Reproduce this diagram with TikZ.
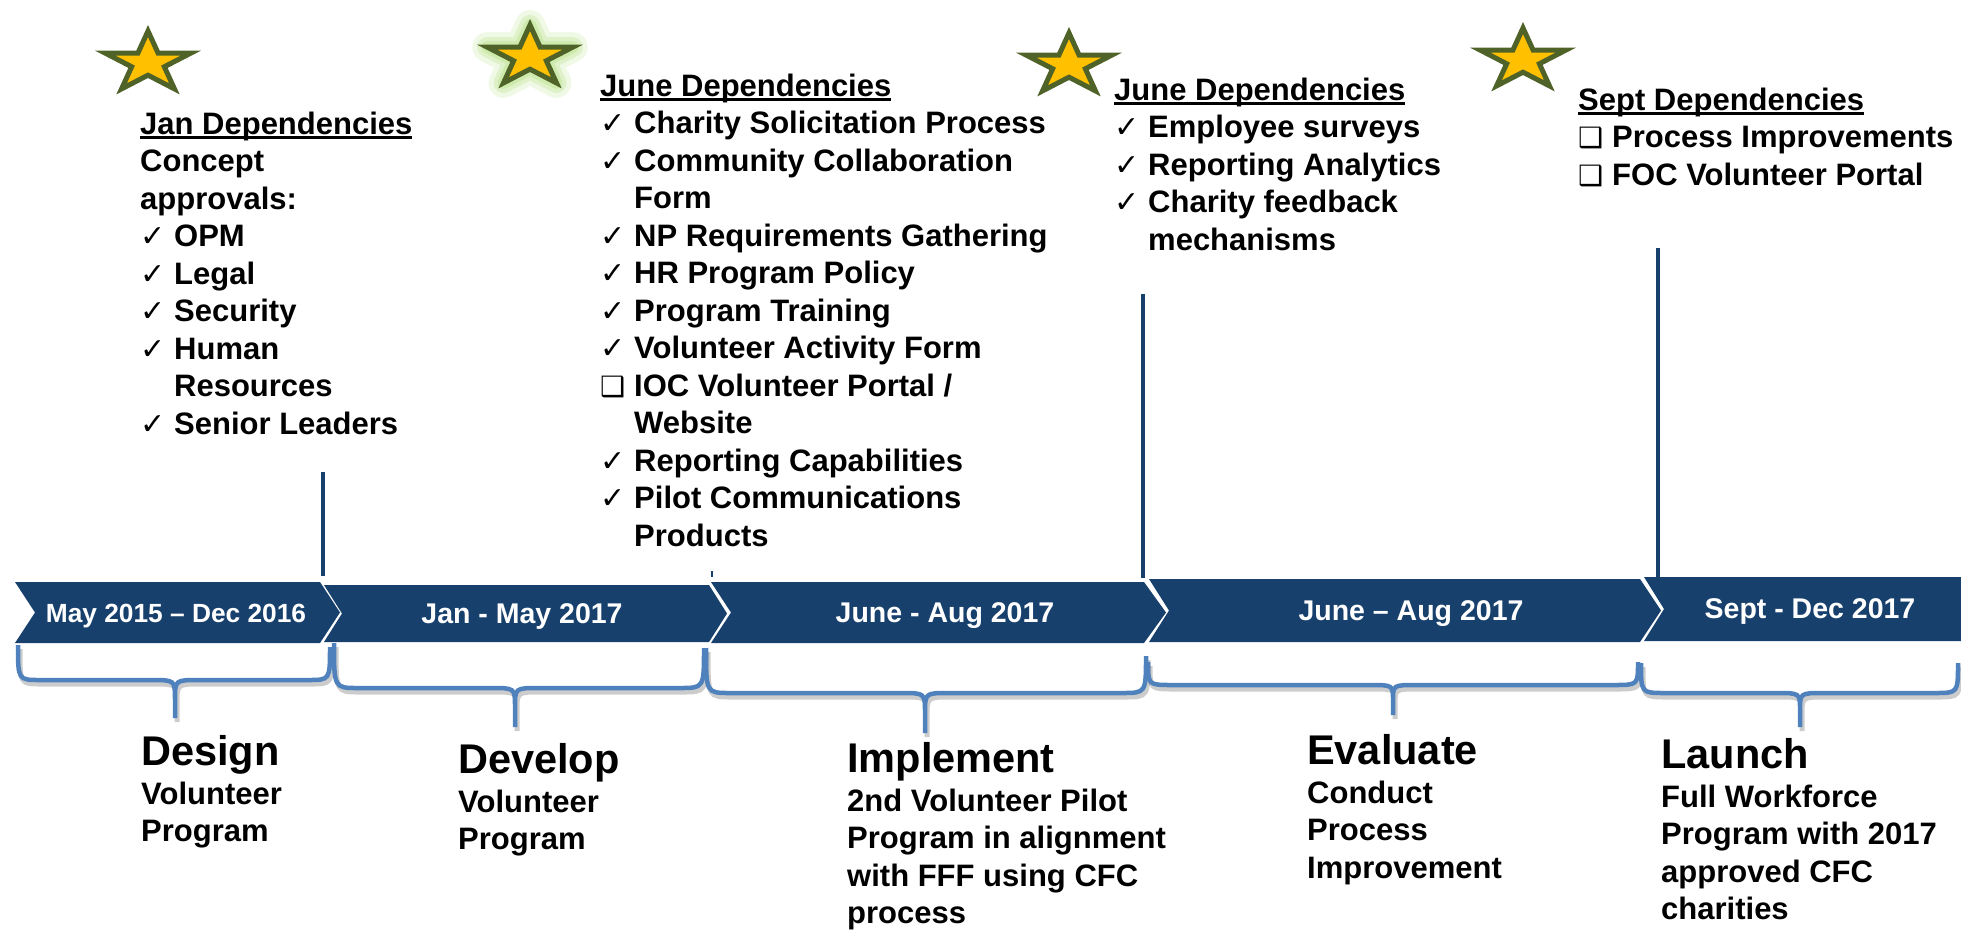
\documentclass[tikz,border=0pt]{standalone}
\usepackage{fontspec}
\setmainfont{Liberation Sans}
\newfontfamily\symfont{DejaVu Sans}
\usetikzlibrary{positioning}

\definecolor{navy}{HTML}{17406D}
\definecolor{bracecol}{HTML}{4F81BD}
\definecolor{stargold}{HTML}{FFC000}
\definecolor{starolive}{HTML}{4F6228}
\definecolor{glowgreen}{HTML}{C3E59A}

\newcommand{\ck}{\makebox[34pt][l]{\symfont\fontsize{30}{30}\selectfont ✓}}
\newcommand{\bx}{\makebox[34pt][l]{\symfont\fontsize{28}{28}\selectfont ❑}}
\newcommand{\ind}{\hspace*{34pt}}
\newcommand{\depul}[1]{\setbox0\hbox{#1}\rlap{\rule[-4.6pt]{\wd0}{3pt}}\box0}

\begin{document}
\begin{tikzpicture}
		[x=1pt, y=-1pt,
		chev/.style={fill=navy},
		period/.style={text=white, anchor=base, inner sep=0pt, font=\fontsize{28.5}{30}\selectfont\bfseries},
		deps/.style={anchor=base west, inner sep=0pt, font=\fontsize{31}{37.5}\selectfont\bfseries},
		phase/.style={anchor=base west, inner sep=0pt, font=\fontsize{31}{37.5}\selectfont\bfseries},
		tick/.style={draw=navy, line width=4pt},
		brace/.style={draw=bracecol, line width=4.5pt,
			preaction={draw=black, opacity=.2, line width=5pt, transform canvas={shift={(2pt,-4pt)}}}},
		starline/.style={fill=stargold, draw=starolive, line width=5pt},
		glowstar/.style={starline,
			preaction={draw=glowgreen, line width=30pt, line join=round, opacity=.25},
			preaction={draw=glowgreen, line width=20pt, line join=round, opacity=.4},
			preaction={draw=glowgreen, line width=12pt, line join=round, opacity=.6}},
		goldstar/.pic={\path[#1] (90:45pt and 32pt) -- (126:17.2pt and 12.2pt) -- (162:45pt and 32pt)
			-- (198:17.2pt and 12.2pt) -- (234:45pt and 32pt) -- (270:17.2pt and 12.2pt)
			-- (306:45pt and 32pt) -- (342:17.2pt and 12.2pt) -- (18:45pt and 32pt)
			-- (54:17.2pt and 12.2pt) -- cycle;}]
		\useasboundingbox (0,0) rectangle (1961,932);

		% stars
		\pic (s1) at (148,63) {goldstar=starline};
		\pic (s2) at (530,57) {goldstar=glowstar};
		\pic (s3) at (1069,65) {goldstar=starline};
		\pic (s4) at (1523,60) {goldstar=starline};

		% dependencies
		\node[deps] (jan) at (140,134) {\begin{tabular}[t]{@{}l@{}}
			\depul{Jan Dependencies}\\
			Concept\\
			approvals:\\
			\ck OPM\\
			\ck Legal\\
			\ck Security\\
			\ck Human\\
			\ind Resources\\
			\ck Senior Leaders
		\end{tabular}};
		\node[deps] (jun1) at (600,96) {\begin{tabular}[t]{@{}l@{}}
			\depul{June Dependencies}\\
			\ck Charity Solicitation Process\\
			\ck Community Collaboration\\
			\ind Form\\
			\ck NP Requirements Gathering\\
			\ck HR Program Policy\\
			\ck Program Training\\
			\ck Volunteer Activity Form\\
			\bx IOC Volunteer Portal /\\
			\ind Website\\
			\ck Reporting Capabilities\\
			\ck Pilot Communications\\
			\ind Products
		\end{tabular}};
		\node[deps] (jun2) at (1114,100) {\begin{tabular}[t]{@{}l@{}}
			\depul{June Dependencies}\\
			\ck Employee surveys\\
			\ck Reporting Analytics\\
			\ck Charity feedback\\
			\ind mechanisms
		\end{tabular}};
		\node[deps] (sep) at (1578,110) {\begin{tabular}[t]{@{}l@{}}
			\depul{Sept Dependencies}\\
			\bx Process Improvements\\
			\bx FOC Volunteer Portal
		\end{tabular}};

		% lines up to the dependencies
		\coordinate (t1) at (323,472);
		\coordinate (b1) at (323,576);
		\coordinate (t2) at (712,571);
		\coordinate (b2) at (712,577);
		\coordinate (t3) at (1143,294);
		\coordinate (b3) at (1143,578);
		\coordinate (t4) at (1658,248);
		\coordinate (b4) at (1658,577);
		\draw[tick] (t1) to (b1);
		\draw[line width=2pt, navy] (t2) to (b2);
		\draw[tick] (t3) to (b3);
		\draw[tick] (t4) to (b4);

		% chevrons
		\fill[chev] (15,582) -- (320,582) -- (340,612.5) -- (320,643) -- (15,643) -- (35,612.5) -- cycle;
		\fill[chev] (324,585) -- (709,585) -- (727,613.5) -- (709,642) -- (324,642) -- (342,613.5) -- cycle;
		\fill[chev] (711,582) -- (1144,582) -- (1166,612.5) -- (1144,643) -- (711,643) -- (731,612.5) -- cycle;
		\fill[chev] (1149,579) -- (1640,579) -- (1661,610.5) -- (1640,642) -- (1149,642) -- (1169,610.5) -- cycle;
		\fill[chev] (1644,577) -- (1961,577) -- (1961,641) -- (1644,641) -- (1664,609) -- cycle;

		\node[period, font=\fontsize{26.3}{28}\selectfont\bfseries] (p1) at (176,622) {May 2015 -- Dec 2016};
		\node[period] (p2) at (522,623) {Jan - May 2017};
		\node[period] (p3) at (945,622) {June - Aug 2017};
		\node[period] (p4) at (1411,620) {June -- Aug 2017};
		\node[period] (p5) at (1810,618) {Sept - Dec 2017};

		% braces
		\draw[brace] (18,645) .. controls (18,680) .. (40,680) -- (151,680) .. controls (175,680) .. (175,700) -- (175,718)
			(175,700) .. controls (175,680) .. (199,680) -- (308,680) .. controls (330,680) .. (330,647);
		\draw[brace] (334,643) .. controls (334,688) .. (358,688) -- (491,688) .. controls (515,688) .. (515,707) -- (515,727)
			(515,707) .. controls (515,688) .. (539,688) -- (680,688) .. controls (704,688) .. (704,648);
		\draw[brace] (706,648) .. controls (706,693) .. (730,693) -- (901,693) .. controls (925,693) .. (925,713) -- (925,733)
			(925,713) .. controls (925,693) .. (949,693) -- (1122,693) .. controls (1146,693) .. (1146,656);
		\draw[brace] (1148,662) .. controls (1148,685) .. (1172,685) -- (1369,685) .. controls (1393,685) .. (1393,700) -- (1393,715)
			(1393,700) .. controls (1393,685) .. (1417,685) -- (1614,685) .. controls (1638,685) .. (1638,662);
		\draw[brace] (1641,663) .. controls (1641,693) .. (1665,693) -- (1776,693) .. controls (1800,693) .. (1800,710) -- (1800,727)
			(1800,710) .. controls (1800,693) .. (1824,693) -- (1935,693) .. controls (1958,693) .. (1958,663);

		% phases
		\node[phase] (des) at (141,765) {\begin{tabular}[t]{@{}l@{}}
			{\fontsize{41.5}{44}\selectfont Design}\\[1.5pt]
			Volunteer\\
			Program
		\end{tabular}};
		\node[phase] (dev) at (458,773) {\begin{tabular}[t]{@{}l@{}}
			{\fontsize{41.5}{44}\selectfont Develop}\\[1.5pt]
			Volunteer\\
			Program
		\end{tabular}};
		\node[phase] (imp) at (847,772) {\begin{tabular}[t]{@{}l@{}}
			{\fontsize{41.5}{44}\selectfont Implement}\\[1.5pt]
			2nd Volunteer Pilot\\
			Program in alignment\\
			with FFF using CFC\\
			process
		\end{tabular}};
		\node[phase] (eva) at (1307,764) {\begin{tabular}[t]{@{}l@{}}
			{\fontsize{41.5}{44}\selectfont Evaluate}\\[1.5pt]
			Conduct\\
			Process\\
			Improvement
		\end{tabular}};
		\node[phase] (lau) at (1661,768) {\begin{tabular}[t]{@{}l@{}}
			{\fontsize{41.5}{44}\selectfont Launch}\\[1.5pt]
			Full Workforce\\
			Program with 2017\\
			approved CFC\\
			charities
		\end{tabular}};
	\end{tikzpicture}
\end{document}
